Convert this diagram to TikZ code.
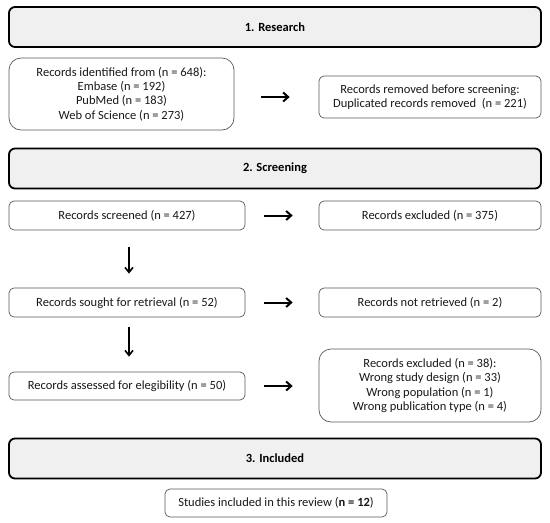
\documentclass[tikz,border=0pt]{standalone}
\usepackage{fontspec}
\setmainfont{Carlito}
\usetikzlibrary{arrows.meta}
\tikzset{
  hdr/.style={draw=black, line width=1.8pt, fill=black!6, rounded corners=6pt, minimum width=532pt, minimum height=40pt, font=\bfseries\fontsize{12.5}{14}\selectfont, inner sep=0pt},
  rbox/.style={draw=black!65, line width=0.7pt, fill=white, rounded corners=5pt, align=center, inner sep=0pt, font=\fontsize{12.5}{14.3}\selectfont, text=black!90},
  bigbox/.style={rbox, rounded corners=12pt},
  harr/.style={line width=2pt, -{Straight Barb[length=5pt,width=9pt,line width=2pt]}},
  varr/.style={line width=1.6pt, -{Straight Barb[length=5pt,width=8pt,line width=1.6pt]}}
}
\begin{document}
\begin{tikzpicture}[x=1pt,y=-1pt]
\useasboundingbox (0,0) rectangle (550,523);
% Section headers
\node[hdr] (h1) at (275,27) {1. Research};
\node[hdr] (h2) at (275,168.5) {2. Screening};
\node[hdr] (h3) at (275,458.5) {3. Included};
% Research row
\node[bigbox, minimum width=225pt, minimum height=72pt] (ident) at (121.5,94)
  {Records identified from (n = 648):\\Embase (n = 192)\\PubMed (n = 183)\\Web of Science (n = 273)};
\node[rbox, minimum width=222pt, minimum height=42pt] (removed) at (430,97)
  {Records removed before screening:\\Duplicated records removed \ (n = 221)};
% Screening rows
\node[rbox, minimum width=236pt, minimum height=29pt] (screened) at (127,215.5) {Records screened (n = 427)};
\node[rbox, minimum width=222pt, minimum height=29pt] (excl1) at (430,215.5) {Records excluded (n = 375)};
\node[rbox, minimum width=236pt, minimum height=29pt] (sought) at (127,302.5) {Records sought for retrieval (n = 52)};
\node[rbox, minimum width=222pt, minimum height=29pt] (notret) at (430,302.5) {Records not retrieved (n = 2)};
\node[rbox, minimum width=236pt, minimum height=28pt] (assess) at (127,386) {Records assessed for elegibility (n = 50)};
\node[bigbox, minimum width=222pt, minimum height=73pt] (excl2) at (430,385.5)
  {Records excluded (n = 38):\\Wrong study design (n = 33)\\Wrong population (n = 1)\\Wrong publication type (n = 4)};
% Included
\node[rbox, minimum width=222pt, minimum height=28pt] (incl) at (276,503) {Studies included in this review (\textbf{n = 12})};
% Arrows
\draw[harr, shorten <=27pt, shorten >=29pt] (ident.east |- removed.west) -- (removed.west);
\draw[harr, shorten <=19pt, shorten >=26pt] (screened.east) -- (excl1.west);
\draw[harr, shorten <=19pt, shorten >=26pt] (sought.east) -- (notret.west);
\draw[harr, shorten <=19pt, shorten >=26pt] (assess.east) -- (excl2.west |- assess.east);
\draw[varr, shorten <=17pt, shorten >=14pt] ([xshift=2pt]screened.south) -- ([xshift=2pt]sought.north);
\draw[varr, shorten <=10pt, shorten >=15pt] ([xshift=2pt]sought.south) -- ([xshift=2pt]assess.north);
\end{tikzpicture}
\end{document}
